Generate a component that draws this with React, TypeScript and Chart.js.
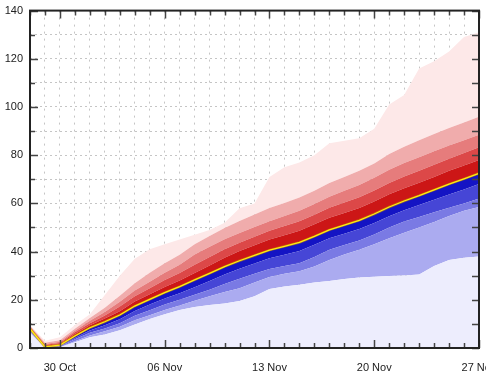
import { useEffect, useRef } from 'react';
import { Chart, registerables } from 'chart.js';

Chart.register(...registerables);

const DATES = [
  '28 Oct', '29 Oct', '30 Oct', '31 Oct', '01 Nov', '02 Nov', '03 Nov', '04 Nov', '05 Nov', '06 Nov',
  '07 Nov', '08 Nov', '09 Nov', '10 Nov', '11 Nov', '12 Nov', '13 Nov', '14 Nov', '15 Nov', '16 Nov',
  '17 Nov', '18 Nov', '19 Nov', '20 Nov', '21 Nov', '22 Nov', '23 Nov', '24 Nov', '25 Nov', '26 Nov',
  '27 Nov',
];
const LABELED_DATES = ['30 Oct', '06 Nov', '13 Nov', '20 Nov', '27 Nov'];
const Y_MIN = 0;
const Y_MAX = 140;
const Y_STEP = 10;
const Y_LABEL_STEP = 20;

const MEDIAN = [8, 0.5, 1.2, 5, 8.4, 10.9, 13.7, 17.4, 20.2, 23, 25.5, 28.3, 31, 33.8, 36.2, 38.4, 40.6, 42.2, 43.8, 46.3, 49, 51, 53, 55.6, 58.5, 61, 63.2, 65.6, 68, 70.2, 72.5];
const P_MAX = [9.5, 3, 4.5, 9.5, 14, 22, 30, 37, 41, 43, 45, 47, 49, 52, 58, 60, 71, 75, 77, 80, 85, 86, 87, 91, 101, 105, 116, 119, 123, 129, 131];
const R4 = [9.2, 2.2, 3.2, 8, 12.4, 16.7, 21.7, 26.9, 31.2, 35.2, 38.7, 43.1, 46.5, 49.8, 52.7, 55.4, 58.1, 60.2, 62.5, 65.3, 68.5, 71, 73.5, 76.6, 80.5, 83.5, 86.2, 88.8, 91.3, 93.6, 96];
const R3 = [9, 1.7, 2.6, 7.2, 11.3, 14.9, 19.2, 23.9, 27.5, 31.2, 34.5, 38.8, 42, 45.1, 47.7, 50.2, 52.6, 54.8, 57, 59.8, 62.8, 65.2, 67.6, 70.6, 74, 76.8, 79.2, 81.6, 84, 86.2, 88.5];
const R2 = [8.7, 1.3, 2.1, 6.5, 10.3, 13.5, 17.2, 21.5, 24.8, 28.2, 31.1, 34.5, 37.8, 41, 43.7, 46.2, 48.6, 50.6, 52.6, 55.3, 58.2, 60.4, 62.6, 65.4, 68.5, 71.2, 73.5, 76, 78.5, 80.9, 83.3];
const R1 = [8.4, 0.9, 1.7, 5.8, 9.4, 12.2, 15.3, 19.3, 22.3, 25.3, 28, 31.1, 34.2, 37.4, 40.2, 42.6, 45, 46.8, 48.6, 51.3, 54, 56, 58.1, 60.8, 63.8, 66.3, 68.6, 71, 73.5, 75.7, 78];
const B1 = [7.6, 0.3, 0.9, 4.2, 7.3, 9.4, 11.9, 15.4, 18, 20.5, 22.7, 25.2, 27.8, 30.5, 32.9, 35.1, 37.2, 38.7, 40.2, 42.8, 45.5, 47.4, 49.4, 51.9, 54.7, 57.2, 59.3, 61.5, 63.7, 65.8, 68];
const B2 = [7.2, 0.2, 0.7, 3.6, 6.3, 8.1, 10.3, 13.4, 15.7, 18, 20, 22.1, 24.2, 26.6, 28.7, 30.8, 32.8, 34, 35.2, 37.8, 40.8, 42.7, 44.6, 47.1, 50, 52.5, 54.4, 56.3, 58.2, 60, 62];
const B3 = [6.6, 0.1, 0.4, 2.8, 5.2, 6.9, 8.8, 11.5, 13.6, 15.8, 17.6, 19.6, 21.5, 23.2, 24.8, 27.2, 29.5, 30.8, 31.8, 33.8, 36.5, 38.8, 40.8, 43, 45.5, 47.8, 50, 52.3, 54.8, 57, 58.5];
const B4 = [6.2, 0, 0.3, 2.4, 4.5, 5.6, 7.4, 9.8, 12, 14, 15.8, 17, 17.8, 18.5, 19.5, 21.5, 24.5, 25.5, 26.2, 27.2, 27.8, 28.6, 29.3, 29.6, 29.9, 30.1, 30.5, 34, 36.5, 37.5, 38];

const BLUE = ['#ededfd', '#ababf0', '#7a7ae4', '#4646d6', '#1414c4'];
const RED = ['#cc1616', '#dc4848', '#e67c7c', '#f0acac', '#fde8e8'];

const framePlugin = {
  id: 'frame',
  afterDraw(chart: any) {
    const { ctx, chartArea, scales } = chart;
    const { left, right, top, bottom } = chartArea;
    const x = scales.x;
    const y = scales.y;
    ctx.save();
    ctx.strokeStyle = '#444';
    ctx.lineWidth = 1.5;
    ctx.beginPath();
    for (let v = Y_MIN; v <= Y_MAX; v += Y_STEP) {
      const py = Math.round(y.getPixelForValue(v)) + 0.5;
      const major = v % Y_LABEL_STEP === 0;
      ctx.moveTo(left, py);
      ctx.lineTo(left + (major ? 8 : 5), py);
      ctx.moveTo(right, py);
      ctx.lineTo(right - 7, py);
    }
    for (let i = 0; i < DATES.length; i++) {
      const px = Math.round(x.getPixelForValue(i)) + 0.5;
      const major = LABELED_DATES.includes(DATES[i]);
      ctx.moveTo(px, bottom);
      ctx.lineTo(px, bottom - (major ? 8 : 5));
      ctx.moveTo(px, top);
      ctx.lineTo(px, top + (major ? 8 : 5));
    }
    ctx.stroke();
    ctx.strokeStyle = '#222';
    ctx.lineWidth = 2;
    ctx.strokeRect(left, top, right - left, bottom - top);
    ctx.restore();
  },
};

function band(data: number[], fill: any, color: string) {
  return {
    data,
    fill,
    backgroundColor: color,
    borderColor: color,
    borderWidth: 0,
    pointRadius: 0,
    tension: 0,
  };
}

export default function App() {
  const ref = useRef<HTMLCanvasElement>(null);
  useEffect(() => {
    if (!ref.current) return;
    const chart = new Chart(ref.current, {
      type: 'line',
      data: {
        labels: DATES,
        datasets: [
          band(B4, 'origin', BLUE[0]),
          band(B3, 0, BLUE[1]),
          band(B2, 1, BLUE[2]),
          band(B1, 2, BLUE[3]),
          band(MEDIAN, 3, BLUE[4]),
          band(R1, 4, RED[0]),
          band(R2, 5, RED[1]),
          band(R3, 6, RED[2]),
          band(R4, 7, RED[3]),
          band(P_MAX, 8, RED[4]),
          {
            data: MEDIAN,
            fill: false,
            borderColor: 'rgba(200,130,0,0.6)',
            borderWidth: 2.5,
            pointRadius: 0,
            tension: 0,
            order: -2,
          } as any,
          {
            data: MEDIAN,
            fill: false,
            borderColor: '#ffec10',
            borderWidth: 1.3,
            pointRadius: 0,
            tension: 0,
            order: -3,
          } as any,
        ],
      },
      options: {
        responsive: false,
        animation: false,
        layout: { padding: { left: 0, top: 7, right: 33, bottom: 0 } },
        plugins: { legend: { display: false }, tooltip: { enabled: false } },
        scales: {
          x: {
            type: 'category',
            offset: false,
            z: 1,
            afterFit: (s: any) => { s.height = 27; },
            grid: {
              color: 'rgba(140,140,140,0.5)',
              lineWidth: 1,
              drawTicks: false,
              offset: false,
            },
            border: { display: false, dash: [2, 5] },
            ticks: {
              autoSkip: false,
              maxRotation: 0,
              padding: 13,
              color: '#222',
              font: { family: 'Liberation Sans, Arial, sans-serif', size: 11 },
              callback: (_v: any, i: number) => (LABELED_DATES.includes(DATES[i]) ? DATES[i] : ''),
            },
          },
          y: {
            min: Y_MIN,
            max: Y_MAX,
            z: 1,
            afterFit: (s: any) => { s.width = 30; },
            grid: {
              color: 'rgba(140,140,140,0.5)',
              lineWidth: 1,
              drawTicks: false,
            },
            border: { display: false, dash: [2, 3] },
            ticks: {
              stepSize: Y_STEP,
              padding: 7,
              color: '#222',
              font: { family: 'Liberation Sans, Arial, sans-serif', size: 11 },
              callback: (v: any) => (Number(v) % Y_LABEL_STEP === 0 ? String(v) : ''),
            },
          },
        },
      },
      plugins: [framePlugin],
    });
    return () => chart.destroy();
  }, []);
  return (
    <div style={{ position: 'fixed', left: 0, top: 0, width: 486, height: 375, overflow: 'hidden', background: '#fff' }}>
      <canvas ref={ref} width={512} height={378} style={{ display: 'block', width: 512, height: 378, marginTop: -3 }} />
    </div>
  );
}
